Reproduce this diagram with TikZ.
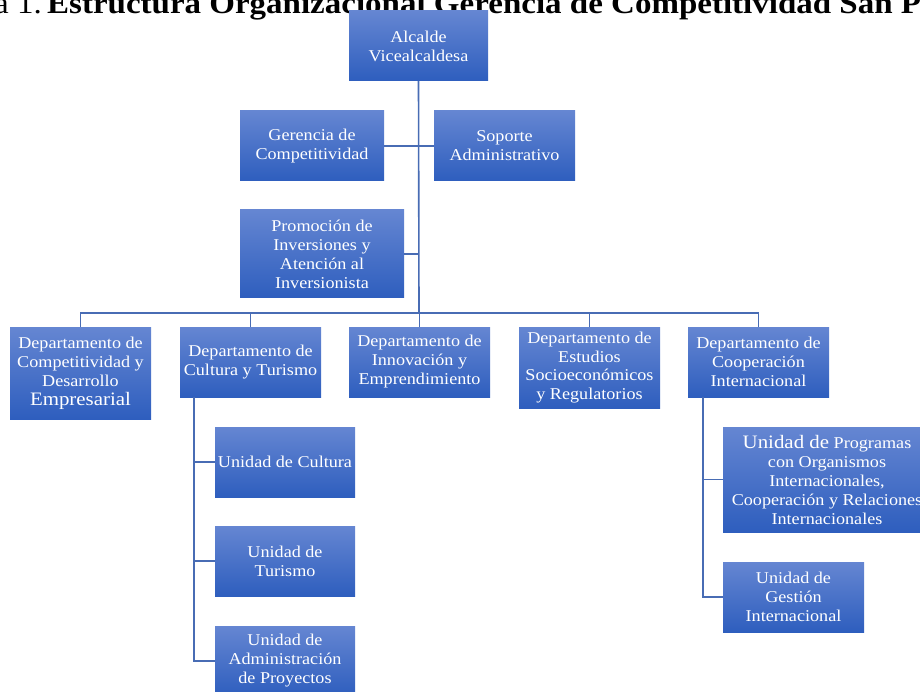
\documentclass[tikz,border=0pt]{standalone}
\usepackage{fontspec}
\setmainfont{Liberation Serif}[FakeStretch=1.1]
\definecolor{boxtop}{RGB}{101,134,210}
\definecolor{boxbot}{RGB}{46,94,190}
\definecolor{linkc}{RGB}{72,108,180}
\begin{document}
\begin{tikzpicture}[x=1pt,y=-1pt,
  orgbox/.style={rectangle, inner sep=1pt, top color=boxtop, bottom color=boxbot,
    text=white, align=center, font=\fontsize{16.5}{19}\selectfont},
  link/.style={draw=linkc, line width=1.6pt}]
\clip (0,0) rectangle (920,692);
% title
\node[anchor=base west, inner sep=0, font=\fontsize{30}{33}\selectfont\bfseries] (tit) at (47,14) {Estructura Organizacional Gerencia de Competitividad San Pedro Sula};
\node[anchor=base east, inner sep=0, font=\fontsize{30}{33}\selectfont] (fig) at (42,14) {Figura 1.};
% boxes
\node[orgbox, minimum width=139, minimum height=70] (alc) at (418.5,46) {Alcalde\\Vicealcaldesa};
\node[orgbox, minimum width=144, minimum height=70] (ger) at (312,146) {Gerencia de\\Competitividad};
\node[orgbox, minimum width=141, minimum height=70] (sop) at (504.5,146) {Soporte\\Administrativo};
\node[orgbox, minimum width=164, minimum height=88] (pro) at (322,254) {Promoción de\\Inversiones y\\Atención al\\Inversionista};
\node[orgbox, minimum width=141, minimum height=92] (d1) at (80.5,373) {Departamento de\\Competitividad y\\Desarrollo\\{\fontsize{19}{19}\selectfont Empresarial}};
\node[orgbox, minimum width=141, minimum height=70] (d2) at (250.5,362) {Departamento de\\Cultura y Turismo};
\node[orgbox, minimum width=141, minimum height=70] (d3) at (419.5,362) {Departamento de\\Innovación y\\Emprendimiento};
\node[orgbox, minimum width=141, minimum height=81, font=\fontsize{16.5}{18.5}\selectfont] (d4) at (589.5,367.5) {Departamento de\\Estudios\\Socioeconómicos\\y Regulatorios};
\node[orgbox, minimum width=141, minimum height=70] (d5) at (758.5,362) {Departamento de\\Cooperación\\Internacional};
\node[orgbox, minimum width=140, minimum height=70] (u1) at (285,462) {Unidad de Cultura};
\node[orgbox, minimum width=140, minimum height=70] (u2) at (285,561) {Unidad de\\Turismo};
\node[orgbox, minimum width=140, minimum height=70] (u3) at (285,661) {Unidad de\\Administración\\de Proyectos};
\node[orgbox, minimum width=208, minimum height=105] (p1) at (827,479.5) {{\fontsize{19}{19}\selectfont Unidad de} Programas\\con Organismos\\Internacionales,\\Cooperación y Relaciones\\Internacionales};
\node[orgbox, minimum width=141, minimum height=70] (p2) at (793.5,597) {Unidad de\\Gestión\\Internacional};
% connectors
\coordinate (bus) at (419,313);
\draw[link] (alc.south) -- (bus);
\draw[link] (ger.east) -- (sop.west);
\draw[link] (pro.east) -- (pro.east -| alc.south);
\draw[link] (d1.north) |- (bus) -| (d5.north);
\draw[link] (d2.north) -- (d2.north |- bus);
\draw[link] (d3.north) -- (d3.north |- bus);
\draw[link] (d4.north) -- (d4.north |- bus);
\coordinate (c2) at ([xshift=14pt]d2.south west);
\draw[link] (c2) |- (u3.west);
\draw[link] (u1.west) -- (u1.west -| c2);
\draw[link] (u2.west) -- (u2.west -| c2);
\coordinate (c5) at ([xshift=15pt]d5.south west);
\draw[link] (c5) |- (p2.west);
\draw[link] (p1.west) -- (p1.west -| c5);
\end{tikzpicture}
\end{document}
